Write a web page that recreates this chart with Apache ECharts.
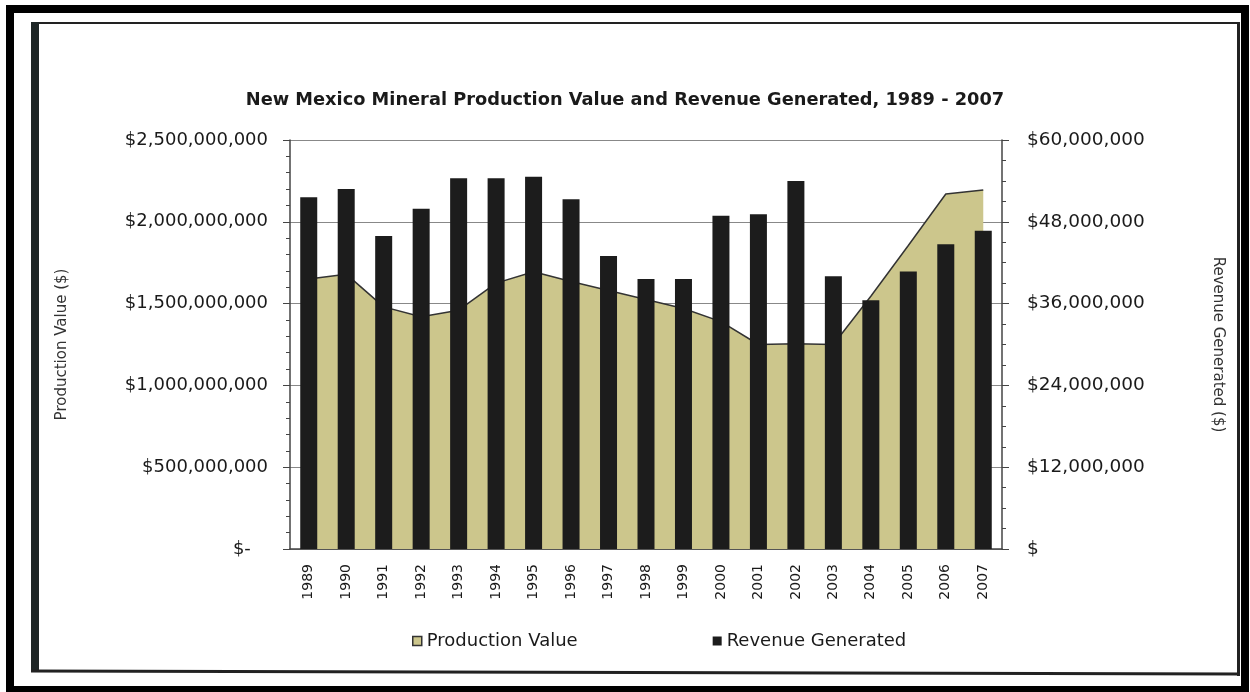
<!DOCTYPE html>
<html>
<head>
<meta charset="utf-8">
<title>New Mexico Mineral Production Value and Revenue Generated</title>
<script src="https://cdn.jsdelivr.net/npm/echarts@6/dist/echarts.min.js"></script>
<style>
  html, body { margin: 0; padding: 0; background: #fff; }
  #chart { width: 1250px; height: 692px; }
</style>
</head>
<body>
<div id="chart"></div>
<script>
// data
var years = ['1989', '1990', '1991', '1992', '1993', '1994', '1995', '1996', '1997', '1998',
             '1999', '2000', '2001', '2002', '2003', '2004', '2005', '2006', '2007'];
var productionValue = [1650e6, 1680e6, 1480e6, 1420e6, 1460e6, 1625e6, 1695e6, 1635e6, 1580e6, 1525e6,
                       1470e6, 1390e6, 1250e6, 1255e6, 1250e6, 1545e6, 1855e6, 2170e6, 2195e6];
var revenueGenerated = [51.6e6, 52.8e6, 45.9e6, 49.9e6, 54.4e6, 54.4e6, 54.6e6, 51.3e6, 43.0e6, 39.6e6,
                        39.6e6, 48.9e6, 49.1e6, 54.0e6, 40.0e6, 36.5e6, 40.7e6, 44.7e6, 46.7e6];
var leftTicks = { min: 0, max: 2500e6, interval: 500e6 };
var rightTicks = { min: 0, max: 60e6, interval: 12e6 };

var font = 'DejaVu Sans';

function money(v) {
  return '$' + String(Math.round(v)).replace(/\B(?=(\d{3})+(?!\d))/g, ',');
}

var chart = echarts.init(document.getElementById('chart'));

var option = {
  backgroundColor: '#ffffff',
  animation: false,
  title: {
    text: 'New Mexico Mineral Production Value and Revenue Generated, 1989 - 2007',
    left: 'center',
    top: 86,
    textStyle: { fontFamily: font, fontSize: 17.8, fontWeight: 'bold', color: '#1a1a1a' }
  },
  legend: {
    left: 407,
    top: 627,
    itemWidth: 9,
    itemHeight: 9,
    itemGap: 135,
    textStyle: { fontFamily: font, fontSize: 18, color: '#1a1a1a' },
    data: [
      { name: 'Production Value', icon: 'rect',
        itemStyle: { color: '#ccc68c', borderColor: '#333', borderWidth: 1.5 } },
      { name: 'Revenue Generated', icon: 'rect',
        itemStyle: { color: '#1c1c1c' } }
    ]
  },
  grid: { left: 290, right: 248, top: 140, bottom: 143 },
  xAxis: {
    type: 'category',
    data: years,
    boundaryGap: true,
    axisLine: { lineStyle: { color: '#444', width: 1.5 } },
    axisTick: { show: false },
    axisLabel: {
      rotate: 90,
      margin: 15,
      fontFamily: font,
      fontSize: 14,
      color: '#1a1a1a'
    }
  },
  yAxis: [
    {
      type: 'value',
      min: leftTicks.min,
      max: leftTicks.max,
      interval: leftTicks.interval,
      name: 'Production Value ($)',
      nameLocation: 'middle',
      nameGap: 220,
      nameTextStyle: { fontFamily: font, fontSize: 15, color: '#333' },
      axisLine: { show: true, lineStyle: { color: '#444', width: 1.5 } },
      axisTick: { show: true, length: 7, lineStyle: { color: '#444' } },
      minorTick: { show: true, splitNumber: 5, length: 4, lineStyle: { color: '#444' } },
      splitLine: { show: true, lineStyle: { color: '#888', width: 1 } },
      axisLabel: {
        margin: 22,
        fontFamily: font,
        fontSize: 18,
        color: '#1a1a1a',
        formatter: function (v) { return v === 0 ? '$-   ' : money(v); }
      }
    },
    {
      type: 'value',
      min: rightTicks.min,
      max: rightTicks.max,
      interval: rightTicks.interval,
      position: 'right',
      name: 'Revenue Generated ($)',
      nameLocation: 'middle',
      nameRotate: -90,
      nameGap: 208,
      nameTextStyle: { fontFamily: font, fontSize: 15, color: '#333', padding: [0, 0, 0, 0] },
      axisLine: { show: true, lineStyle: { color: '#444', width: 1.5 } },
      axisTick: { show: true, length: 7, lineStyle: { color: '#444' } },
      minorTick: { show: true, splitNumber: 4, length: 4, lineStyle: { color: '#444' } },
      splitLine: { show: false },
      axisLabel: {
        margin: 25,
        fontFamily: font,
        fontSize: 18.5,
        color: '#1a1a1a',
        formatter: function (v) { return v === 0 ? '$' : money(v); }
      }
    }
  ],
  series: [
    {
      name: 'Production Value',
      type: 'line',
      yAxisIndex: 0,
      data: productionValue,
      symbol: 'none',
      z: 1,
      itemStyle: { color: '#ccc68c' },
      lineStyle: { color: '#333', width: 1.5 },
      areaStyle: { color: '#ccc68c', opacity: 1 }
    },
    {
      name: 'Revenue Generated',
      type: 'bar',
      yAxisIndex: 1,
      data: revenueGenerated,
      barWidth: 17,
      z: 3,
      itemStyle: { color: '#1c1c1c' }
    }
  ],
  graphic: [
    // scanned page frame
    { type: 'rect', silent: true, z: 100,
      shape: { x: 10, y: 9, width: 1235, height: 681 },
      style: { fill: 'none', stroke: '#000', lineWidth: 8 } },
    { type: 'line', silent: true, z: 100,
      shape: { x1: 35, y1: 23, x2: 1239, y2: 23 },
      style: { stroke: '#222', lineWidth: 2 } },
    { type: 'line', silent: true, z: 100,
      shape: { x1: 35, y1: 22, x2: 35, y2: 672 },
      style: { stroke: '#1e2626', lineWidth: 8 } },
    { type: 'line', silent: true, z: 100,
      shape: { x1: 1238.5, y1: 22, x2: 1238.5, y2: 676 },
      style: { stroke: '#222', lineWidth: 3 } },
    { type: 'line', silent: true, z: 100,
      shape: { x1: 31, y1: 671, x2: 1240, y2: 674 },
      style: { stroke: '#222', lineWidth: 3 } }
  ]
};

chart.setOption(option);
</script>
</body>
</html>
